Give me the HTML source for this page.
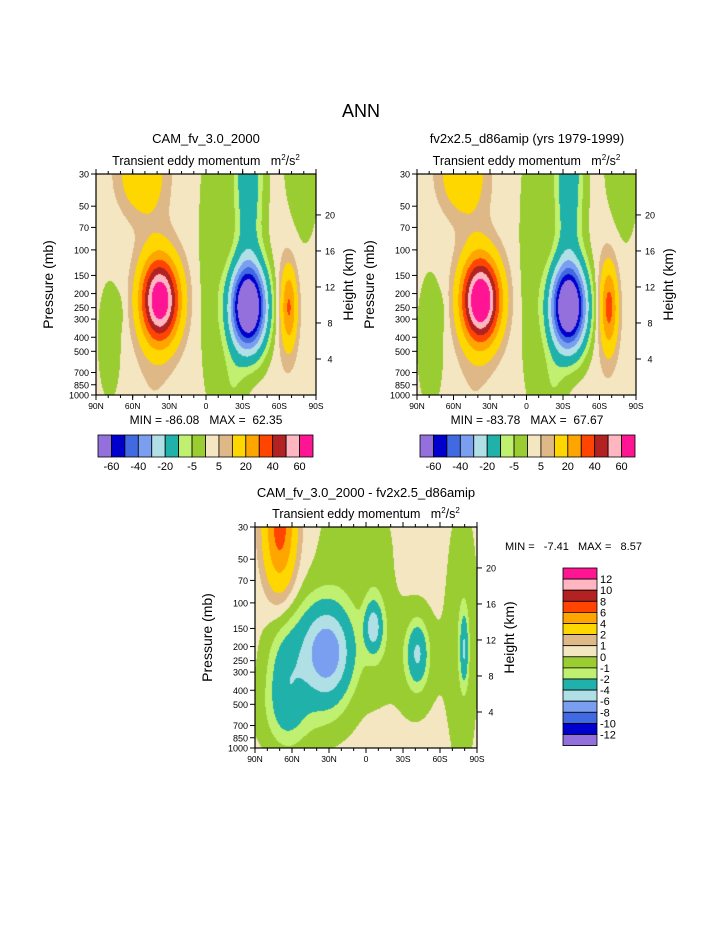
<!DOCTYPE html>
<html><head><meta charset="utf-8">
<style>
body{margin:0;background:#fff;}
#root{position:relative;width:723px;height:935px;background:#fff;font-family:"Liberation Sans",sans-serif;color:#000;overflow:hidden;}
svg text{font-family:"Liberation Sans",sans-serif;white-space:pre;}
canvas{position:absolute;}
</style></head>
<body>
<div id="root">
<canvas id="c1"></canvas>
<canvas id="c2"></canvas>
<canvas id="c3"></canvas>
<svg id="ov" width="723" height="935" style="position:absolute;left:0;top:0"></svg>
</div>
<script>
// ---- data ----
const levelsMain = [-60,-50,-40,-30,-20,-10,-5,0,5,10,20,30,40,50,60];
const levelsDiff = [-12,-10,-8,-6,-4,-2,-1,0,1,2,4,6,8,10,12];
const colors = ["#9370db","#0000cd","#4169e1","#7b9ff0","#b0e0e6","#20b2aa","#c0f070","#9acd32","#f5e6c2","#deb887","#ffd700","#ffa500","#ff4500","#b22222","#ffb6c1","#ff1493"];
const mainBarLabels = ["-60","-40","-20","-5","5","20","40","60"];
const diffBarLabels = ["12","10","8","6","4","2","1","0","-1","-2","-4","-6","-8","-10","-12"];
const pTicks = [30,50,70,100,150,200,250,300,400,500,700,850,1000];
const kmTicks = [4,8,12,16,20];
const latTicks = ["90N","60N","30N","0","30S","60S","90S"];
// blobs: x frac (0=90N), y frac (log-p, 0=30mb), widths, amplitudes
const p1Cx=[.29,.2,.26,.69,.69,.875,.06,.1,.93,.52,.62,.86];
const p1Cy=[.57,0,.5,.6,0,.6,.75,.62,0,.4,.95,.6];
const p1Sx=[.06,.07,.06,.055,.045,.025,.04,.02,.06,.045,.04,.04];
const p1Sy=[.13,.12,.6,.13,.3,.12,.2,.06,.25,.5,.15,.25];
const p1Amp=[68,16,3.5,-90,-20,26,-5,-3,-5,-4.5,-6,4];
const p2Cx=[.29,.2,.26,.69,.69,.875,.06,.1,.93,.52,.62,.86];
const p2Cy=[.57,0,.5,.6,0,.6,.75,.62,0,.4,.95,.6];
const p2Sx=[.06,.07,.06,.055,.045,.027,.045,.02,.06,.045,.04,.04];
const p2Sy=[.13,.12,.6,.13,.3,.13,.22,.06,.25,.5,.15,.25];
const p2Amp=[73,16,3.5,-88,-20,29,-5.5,-3,-5,-4.5,-6,4];
const p3Cx=[.11,.32,.14,.53,.73,.94,.45,.93,.2,.3,.72,.55];
const p3Cy=[0,.57,.7,.45,.57,.55,.05,.5,.85,.5,.6,.45];
const p3Sx=[.05,.075,.06,.025,.03,.012,.1,.05,.15,.15,.07,.05];
const p3Sy=[.2,.14,.18,.07,.09,.1,.15,.4,.12,.2,.18,.2];
const p3Amp=[6.5,-7.2,-3.2,-4.5,-3.5,-3.5,-1.2,-1.3,-1,-1.2,-1.3,-1.2];
const bgMain=2, bgDiff=0.4;

const panels=[
 {id:'c1',x:96,y:174,w:220,h:221,cx:p1Cx,cy:p1Cy,sx:p1Sx,sy:p1Sy,amp:p1Amp,bg:bgMain,lev:levelsMain},
 {id:'c2',x:417,y:174,w:219,h:221,cx:p2Cx,cy:p2Cy,sx:p2Sx,sy:p2Sy,amp:p2Amp,bg:bgMain,lev:levelsMain},
 {id:'c3',x:255,y:527,w:222,h:221,cx:p3Cx,cy:p3Cy,sx:p3Sx,sy:p3Sy,amp:p3Amp,bg:bgDiff,lev:levelsDiff}
];
function colorFor(v,lev){let i=0;while(i<lev.length&&v>=lev[i])i++;return colors[i];}
function hex(c){return [parseInt(c.substr(1,2),16),parseInt(c.substr(3,2),16),parseInt(c.substr(5,2),16)];}
panels.forEach(P=>{
 const cv=document.getElementById(P.id);cv.width=P.w;cv.height=P.h;
 cv.style.left=P.x+'px';cv.style.top=P.y+'px';
 const ctx=cv.getContext('2d');const img=ctx.createImageData(P.w,P.h);
 for(let j=0;j<P.h;j++)for(let i=0;i<P.w;i++){
  const fx=i/P.w,fy=j/P.h;let v=P.bg;
  for(let k=0;k<P.amp.length;k++){const dx=(fx-P.cx[k])/P.sx[k],dy=(fy-P.cy[k])/P.sy[k];v+=P.amp[k]*Math.exp(-0.5*(dx*dx+dy*dy));}
  const c=hex(colorFor(v,P.lev));const o=(j*P.w+i)*4;img.data[o]=c[0];img.data[o+1]=c[1];img.data[o+2]=c[2];img.data[o+3]=255;}
 ctx.putImageData(img,0,0);
});
// ---- overlay ----
const ov=document.getElementById('ov');const NS='http://www.w3.org/2000/svg';
function el(t,a,txt){const e=document.createElementNS(NS,t);for(const k in a)e.setAttribute(k,a[k]);if(txt!==undefined)e.textContent=txt;ov.appendChild(e);return e;}
function yP(P,p){return P.y+Math.log(p/30)/Math.log(1000/30)*P.h;}
function txt(x,y,s,size,anchor,name){const t=el('text',{x:x,y:y,'font-size':size,'text-anchor':anchor||'middle'},s);
 
 return t;}
txt(361,117,'ANN',18,'middle','main-title');
panels.forEach((P,idx)=>{
 const fr=el('rect',{x:P.x,y:P.y,width:P.w,height:P.h,fill:'none',stroke:'#000','stroke-width':1.2});
 
 
 pTicks.forEach(p=>{const y=yP(P,p);el('line',{x1:P.x-5,x2:P.x,y1:y,y2:y,stroke:'#000'});
  txt(P.x-7,y+3.5,String(p),9,'end','pressure-tick-label');});
 kmTicks.forEach(k=>{const p=1000*Math.exp(-k/7);const y=yP(P,p);el('line',{x1:P.x+P.w,x2:P.x+P.w+5,y1:y,y2:y,stroke:'#000'});
  txt(P.x+P.w+14,y+3.5,String(k),9,'middle','height-tick-label');});
 latTicks.forEach((s,i)=>{const x=P.x+i*P.w/6;el('line',{x1:x,x2:x,y1:P.y+P.h,y2:P.y+P.h+5,stroke:'#000'});el('line',{x1:x,x2:x,y1:P.y,y2:P.y-5,stroke:'#000'});
  txt(x,P.y+P.h+14,s,8.5,'middle','latitude-tick-label');});
 for(let i=0;i<18;i++){const x=P.x+i*P.w/18;el('line',{x1:x,x2:x,y1:P.y+P.h,y2:P.y+P.h+3,stroke:'#000'});el('line',{x1:x,x2:x,y1:P.y,y2:P.y-3,stroke:'#000'});}
 const yl=txt(0,0,'Pressure (mb)',14,'middle','y-axis-title');yl.setAttribute('transform',`translate(${P.x-43},${P.y+P.h/2}) rotate(-90)`);
 const hl=txt(0,0,'Height (km)',14,'middle','right-axis-title');hl.setAttribute('transform',`translate(${P.x+P.w+37},${P.y+P.h/2}) rotate(-90)`);
 const st=el('text',{x:P.x+P.w/2,y:P.y-9,'font-size':12.5,'text-anchor':'middle'});
 st.innerHTML='Transient eddy momentum&#160;&#160;&#160;m<tspan dy="-5" font-size="8">2</tspan><tspan dy="5">/s</tspan><tspan dy="-5" font-size="8">2</tspan>';
 
 
});
txt(206,143,'CAM_fv_3.0_2000',13,'middle','left-panel-title');
txt(527,143,'fv2x2.5_d86amip (yrs 1979-1999)',13,'middle','right-panel-title');
txt(366,497,'CAM_fv_3.0_2000 - fv2x2.5_d86amip',13,'middle','diff-panel-title');
txt(206,424,'MIN = -86.08   MAX =  62.35',12,'middle','left-min-max');
txt(527,424,'MIN = -83.78   MAX =  67.67',12,'middle','right-min-max');
txt(505,550,'MIN =   -7.41   MAX =   8.57',11,'start','diff-min-max');
// horizontal colorbars
[[98,313],[420,635]].forEach(([x0,x1])=>{const bw=(x1-x0)/16;
 colors.forEach((c,i)=>{const r=el('rect',{x:x0+i*bw,y:435,width:bw,height:22,fill:c,stroke:'#000','stroke-width':0.8});
  
  });
 mainBarLabels.forEach((s,i)=>txt(x0+(2*i+1)*bw,470,s,11,'middle','colorbar-label'));
});
// vertical colorbar
{const x0=563,y0=568,bh=11.1;
 colors.slice().reverse().forEach((c,i)=>{const r=el('rect',{x:x0,y:y0+i*bh,width:34,height:bh,fill:c,stroke:'#000','stroke-width':0.8});
  
  });
 diffBarLabels.forEach((s,i)=>txt(600,y0+(i+1)*bh+4,s,11,'start','diff-colorbar-label'));}
</script>
</body></html>
